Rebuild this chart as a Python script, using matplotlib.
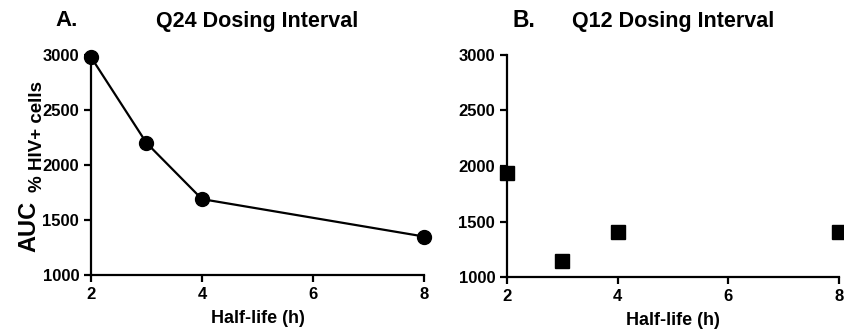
import matplotlib
matplotlib.use("Agg")
import matplotlib.pyplot as plt

plt.rcParams['font.family'] = ['Liberation Sans', 'DejaVu Sans']
plt.rcParams['font.weight'] = 'bold'

half_life = [2, 3, 4, 8]
auc_q24 = [2980, 2200, 1690, 1350]
auc_q12 = [1940, 1140, 1410, 1410]
yticks = [1000, 1500, 2000, 2500, 3000]
xticks = [2, 4, 6, 8]

fig = plt.figure(figsize=(8.45, 3.35), dpi=100)
ax1 = fig.add_axes([0.1077, 0.179, 0.394, 0.657])
ax2 = fig.add_axes([0.600, 0.173, 0.393, 0.663])


def style(ax):
    ax.set_xlim(2, 8)
    ax.set_ylim(1000, 3000)
    ax.set_xticks(xticks)
    ax.set_yticks(yticks)
    for s in ['top', 'right']:
        ax.spines[s].set_visible(False)
    for s in ['left', 'bottom']:
        ax.spines[s].set_linewidth(1.6)
    ax.tick_params(width=1.6, length=5, labelsize=12)
    for lab in ax.get_xticklabels() + ax.get_yticklabels():
        lab.set_fontweight('bold')
    ax.set_xlabel('Half-life (h)', fontsize=13, fontweight='bold', labelpad=6)


ax1.plot(half_life, auc_q24, color='black', lw=1.6, marker='o',
         markersize=10, clip_on=False, zorder=3)
style(ax1)

ax2.plot(half_life, auc_q12, color='black', lw=0, marker='s',
         markersize=10, clip_on=False, zorder=3)
style(ax2)

ax1.set_title('Q24 Dosing Interval', fontsize=15.5, fontweight='bold', pad=20)
ax2.set_title('Q12 Dosing Interval', fontsize=15.5, fontweight='bold', pad=20)
fig.text(0.066, 0.94, 'A.', fontsize=16, fontweight='bold', ha='left', va='center')
fig.text(0.607, 0.94, 'B.', fontsize=16.5, fontweight='bold', ha='left', va='center')

fig.text(29 / 845, 1 - 226 / 335, 'AUC', rotation=90, fontsize=17,
         fontweight='bold', ha='center', va='center')
fig.text(37 / 845, 1 - 137 / 335, '% HIV+ cells', rotation=90, fontsize=13.5,
         fontweight='bold', ha='center', va='center')

fig.savefig('out.png', dpi=100)
